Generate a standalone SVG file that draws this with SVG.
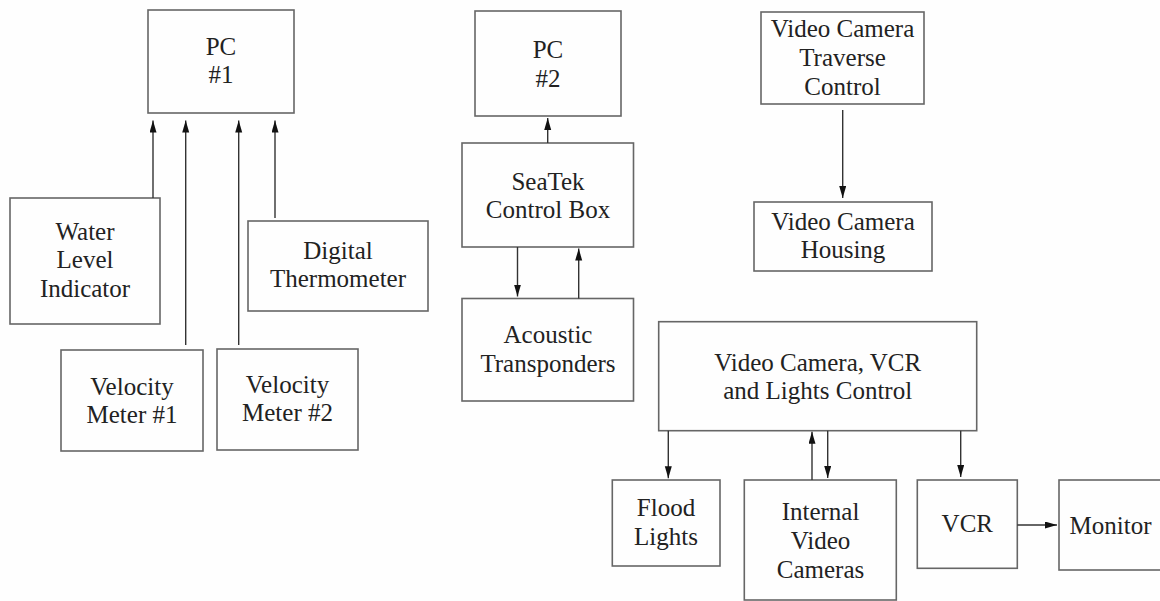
<svg xmlns="http://www.w3.org/2000/svg" width="1160" height="601" viewBox="0 0 1160 601">
<style>
.box{fill:none;stroke:#666;stroke-width:1.6}
.t{font-family:"Liberation Serif","Times New Roman",serif;font-size:25px;fill:#222;text-anchor:middle}
.c{fill:none;stroke:#333;stroke-width:1.4}
</style>
<defs>
<marker id="ah" markerUnits="userSpaceOnUse" markerWidth="13" markerHeight="8" refX="12" refY="3.5" orient="auto">
<path d="M0,0 L12,3.5 L0,7 z" fill="#111"/>
</marker>
</defs>
<rect width="1160" height="601" fill="#fefefe"/>

<g id="pc1"><rect class="box" x="148" y="10" width="146" height="103"/><text class="t" x="221" y="55">PC</text><text class="t" x="221" y="83">#1</text></g>
<g id="water"><rect class="box" x="10" y="198" width="150" height="126"/><text class="t" x="85" y="240">Water</text><text class="t" x="85" y="268">Level</text><text class="t" x="85" y="297">Indicator</text></g>
<g id="thermo"><rect class="box" x="248" y="221" width="180" height="90"/><text class="t" x="338" y="259">Digital</text><text class="t" x="338" y="287">Thermometer</text></g>
<g id="vm1"><rect class="box" x="61" y="350" width="142" height="101"/><text class="t" x="132" y="395">Velocity</text><text class="t" x="132" y="423">Meter #1</text></g>
<g id="vm2"><rect class="box" x="217" y="349" width="141" height="101"/><text class="t" x="287.5" y="393">Velocity</text><text class="t" x="287.5" y="421">Meter #2</text></g>

<g id="pc2"><rect class="box" x="475" y="11" width="146" height="105"/><text class="t" x="548" y="58">PC</text><text class="t" x="548" y="87">#2</text></g>
<g id="seatek"><rect class="box" x="462" y="143" width="171.5" height="104"/><text class="t" x="548" y="190">SeaTek</text><text class="t" x="548" y="218">Control Box</text></g>
<g id="acoustic"><rect class="box" x="462" y="298.5" width="171.5" height="102.5"/><text class="t" x="548" y="343">Acoustic</text><text class="t" x="548" y="372">Transponders</text></g>

<g id="traverse"><rect class="box" x="761" y="12" width="163" height="92"/><text class="t" x="842.5" y="37">Video Camera</text><text class="t" x="842.5" y="66">Traverse</text><text class="t" x="842.5" y="95">Control</text></g>
<g id="housing"><rect class="box" x="754" y="202" width="178" height="69"/><text class="t" x="843" y="230">Video Camera</text><text class="t" x="843" y="258">Housing</text></g>

<g id="control"><rect class="box" x="658.7" y="321.7" width="318" height="109"/><text class="t" x="817.7" y="370.5">Video Camera, VCR</text><text class="t" x="817.7" y="398.5">and Lights Control</text></g>
<g id="flood"><rect class="box" x="612.3" y="480" width="107.7" height="86"/><text class="t" x="666" y="516">Flood</text><text class="t" x="666" y="545">Lights</text></g>
<g id="internal"><rect class="box" x="744.3" y="480" width="152" height="120"/><text class="t" x="820.5" y="520">Internal</text><text class="t" x="820.5" y="549">Video</text><text class="t" x="820.5" y="578">Cameras</text></g>
<g id="vcr"><rect class="box" x="917.3" y="480" width="100" height="88.3"/><text class="t" x="967.3" y="532">VCR</text></g>
<g id="monitor"><rect class="box" x="1059" y="480" width="103" height="90"/><text class="t" x="1110.5" y="534">Monitor</text></g>

<g id="connectors">
<line class="c" x1="153" y1="198" x2="153" y2="120.5" marker-end="url(#ah)"/>
<line class="c" x1="185.7" y1="345" x2="185.7" y2="120.5" marker-end="url(#ah)"/>
<line class="c" x1="238.7" y1="345" x2="238.7" y2="120.5" marker-end="url(#ah)"/>
<line class="c" x1="275" y1="218" x2="275" y2="120.5" marker-end="url(#ah)"/>
<line class="c" x1="547.7" y1="143" x2="547.7" y2="118" marker-end="url(#ah)"/>
<line class="c" x1="517.5" y1="247" x2="517.5" y2="296.5" marker-end="url(#ah)"/>
<line class="c" x1="578.7" y1="298.5" x2="578.7" y2="248.5" marker-end="url(#ah)"/>
<line class="c" x1="842.7" y1="110" x2="842.7" y2="198" marker-end="url(#ah)"/>
<line class="c" x1="668.3" y1="430.7" x2="668.3" y2="478.3" marker-end="url(#ah)"/>
<line class="c" x1="812" y1="480" x2="812" y2="431.7" marker-end="url(#ah)"/>
<line class="c" x1="827.7" y1="430.7" x2="827.7" y2="478" marker-end="url(#ah)"/>
<line class="c" x1="960.7" y1="430.7" x2="960.7" y2="477" marker-end="url(#ah)"/>
<line class="c" x1="1017.3" y1="525" x2="1057" y2="525" marker-end="url(#ah)"/>
</g>
</svg>
